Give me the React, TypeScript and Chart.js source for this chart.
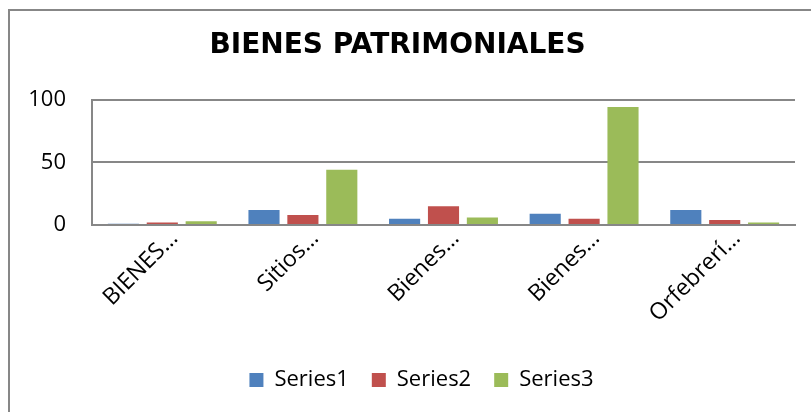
import React, { useEffect, useRef } from "react";
import { Chart, registerables } from "chart.js";

Chart.register(...registerables);

// ---- data ----
const categories = ["BIENES…", "Sitios…", "Bienes…", "Bienes…", "Orfebrerí…"];
const series1 = [1, 12, 5, 9, 12];
const series2 = [2, 8, 15, 5, 4];
const series3 = [3, 44, 6, 94, 2];
const seriesNames = ["Series1", "Series2", "Series3"];
const seriesColors = ["#4F81BD", "#C0504D", "#9BBB59"];
const yMin = 0;
const yMax = 100;
const yStep = 50;
const titleText = "BIENES PATRIMONIALES";

// ---- style ----
const GRID = "#878787";
const TEXT_FONT = "'Open Sans', 'Noto Sans', sans-serif";
const LEGEND_SHIFT = 19;
const TITLE_SHIFT = -5;

const nudgePlugin = {
  id: "nudge",
  afterLayout(chart: any) {
    if (chart.legend) {
      chart.legend.left += LEGEND_SHIFT;
      chart.legend.right += LEGEND_SHIFT;
    }
    if (chart.titleBlock) {
      chart.titleBlock.left += TITLE_SHIFT;
      chart.titleBlock.right += TITLE_SHIFT;
    }
  },
};

export default function App() {
  const canvasRef = useRef<HTMLCanvasElement | null>(null);

  useEffect(() => {
    document.body.style.overflow = "hidden";
    const canvas = canvasRef.current;
    if (!canvas) return;
    const seriesData = [series1, series2, series3];
    const chart = new Chart(canvas, {
      type: "bar",
      data: {
        labels: categories,
        datasets: seriesNames.map((name, i) => ({
          label: name,
          data: seriesData[i],
          backgroundColor: seriesColors[i],
          borderWidth: 0,
          categoryPercentage: 0.83,
          barPercentage: 0.8,
        })),
      },
      plugins: [nudgePlugin],
      options: {
        animation: false,
        responsive: true,
        maintainAspectRatio: false,
        layout: { padding: { left: 0, right: 16, top: 0, bottom: 11 } },
        plugins: {
          title: {
            display: true,
            text: titleText,
            color: "#000",
            font: { family: "'DejaVu Sans', sans-serif", size: 28, weight: "bold" },
            padding: { top: 18, bottom: 37 },
          },
          legend: {
            position: "bottom",
            labels: {
              boxWidth: 14,
              boxHeight: 14,
              padding: 23,
              color: "#000",
              font: { family: TEXT_FONT, size: 22 },
            },
          },
          tooltip: { enabled: false },
        },
        scales: {
          x: {
            grid: { display: false, drawTicks: false },
            border: { display: true, color: GRID, width: 2 },
            ticks: {
              color: "#000",
              font: { family: TEXT_FONT, size: 23 },
              minRotation: 45,
              maxRotation: 45,
              padding: 0,
              labelOffset: 12,
              autoSkip: false,
            },
            afterFit: (s: any) => {
              s.height = 121;
            },
          },
          y: {
            min: yMin,
            max: yMax,
            ticks: {
              stepSize: yStep,
              padding: 26,
              color: "#000",
              font: { family: TEXT_FONT, size: 22 },
            },
            grid: { color: GRID, lineWidth: 2, drawTicks: false },
            border: { display: true, color: GRID, width: 2 },
            afterFit: (s: any) => {
              s.width = 82;
            },
          },
        },
      },
    });
    return () => chart.destroy();
  }, []);

  return (
    <div
      style={{
        position: "absolute",
        left: 8,
        top: 9,
        borderLeft: `2px solid ${GRID}`,
        borderTop: `2px solid ${GRID}`,
        background: "#fff",
      }}
    >
      <div style={{ position: "relative", width: 801, height: 401 }}>
        <canvas ref={canvasRef} />
      </div>
    </div>
  );
}
